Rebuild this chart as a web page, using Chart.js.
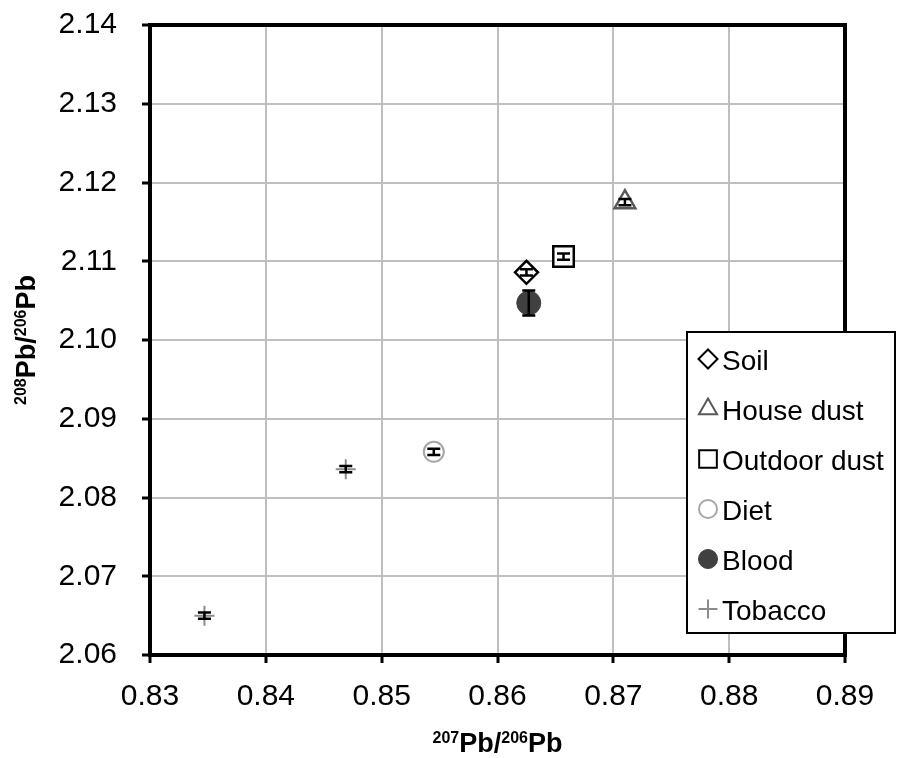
<!DOCTYPE html>
<html>
<head>
<meta charset="utf-8">
<script src="https://cdn.jsdelivr.net/npm/chart.js@4.4.1/dist/chart.umd.min.js"></script>
<style>
  html, body { margin: 0; padding: 0; background: #ffffff; }
  #wrap { width: 906px; height: 758px; }
</style>
</head>
<body>
<div id="wrap"><canvas id="c" width="906" height="758"></canvas></div>
<script>
// ---- data ----
const categories = ['Soil', 'House dust', 'Outdoor dust', 'Diet', 'Blood', 'Tobacco'];
const soilX = [0.8625],  soilY = [2.1086],  soilErr = [0.0004];
const houseX = [0.8710], houseY = [2.1175], houseErr = [0.0004];
const outdoorX = [0.8657], outdoorY = [2.1106], outdoorErr = [0.0004];
const dietX = [0.8545],  dietY = [2.0858],  dietErr = [0.0004];
const bloodX = [0.8627], bloodY = [2.1047], bloodErr = [0.0016];
const tobaccoX = [0.8347, 0.8469], tobaccoY = [2.0650, 2.0836], tobaccoErr = [0.0004, 0.0004];
const xTicks = [0.83, 0.84, 0.85, 0.86, 0.87, 0.88, 0.89];
const yTicks = [2.06, 2.07, 2.08, 2.09, 2.10, 2.11, 2.12, 2.13, 2.14];

function pts(xs, ys) { return xs.map((x, i) => ({ x: x, y: ys[i] })); }

const FONT = '"Liberation Sans", Arial, Helvetica, sans-serif';

const datasets = [
  { label: categories[0], data: pts(soilX, soilY), err: soilErr, pointStyle: 'rectRot', pointRadius: 11.5,
    backgroundColor: '#ffffff', borderColor: '#000000', pointBorderWidth: 2.5, lgR: 9.5 },
  { label: categories[1], data: pts(houseX, houseY), err: houseErr, pointStyle: 'triangle', pointRadius: 12,
    backgroundColor: '#ffffff', borderColor: '#595959', pointBorderWidth: 2.5, lgR: 10.5 },
  { label: categories[2], data: pts(outdoorX, outdoorY), err: outdoorErr, pointStyle: 'rect', pointRadius: 14.5,
    backgroundColor: '#ffffff', borderColor: '#000000', pointBorderWidth: 2.5, lgR: 12.5 },
  { label: categories[3], data: pts(dietX, dietY), err: dietErr, pointStyle: 'circle', pointRadius: 10,
    backgroundColor: '#ffffff', borderColor: '#a6a6a6', pointBorderWidth: 2, lgR: 9 },
  { label: categories[4], data: pts(bloodX, bloodY), err: bloodErr, pointStyle: 'circle', pointRadius: 12,
    backgroundColor: '#404040', borderColor: '#404040', pointBorderWidth: 1, lgR: 9.5 },
  { label: categories[5], data: pts(tobaccoX, tobaccoY), err: tobaccoErr, pointStyle: 'cross', pointRadius: 10,
    backgroundColor: '#8c8c8c', borderColor: '#8c8c8c', pointBorderWidth: 2, lgR: 9.5 }
];
datasets.forEach(d => { d.pointHoverRadius = d.pointRadius; d.showLine = false; });

function drawShape(ctx, style, x, y, r, fill, stroke, lw) {
  if (Chart.helpers && Chart.helpers.drawPoint) {
    ctx.save();
    ctx.fillStyle = fill; ctx.strokeStyle = stroke; ctx.lineWidth = lw;
    Chart.helpers.drawPoint(ctx, { pointStyle: style, radius: r, rotation: 0, borderWidth: lw }, x, y);
    ctx.restore();
  }
}

const errorBars = {
  id: 'errorBars',
  afterDatasetsDraw(chart) {
    const ctx = chart.ctx, xs = chart.scales.x, ys = chart.scales.y;
    ctx.save();
    ctx.strokeStyle = '#000000';
    ctx.lineWidth = 2.5;
    chart.data.datasets.forEach(ds => {
      ds.data.forEach((p, i) => {
        const e = ds.err[i];
        const px = xs.getPixelForValue(p.x);
        const y1 = ys.getPixelForValue(p.y + e), y2 = ys.getPixelForValue(p.y - e);
        const cap = 6.5;
        ctx.beginPath();
        ctx.moveTo(px, y1); ctx.lineTo(px, y2);
        ctx.moveTo(px - cap, y1); ctx.lineTo(px + cap, y1);
        ctx.moveTo(px - cap, y2); ctx.lineTo(px + cap, y2);
        ctx.stroke();
      });
    });
    const a = chart.chartArea;
    ctx.lineWidth = 4;
    ctx.strokeRect(a.left, a.top, a.right - a.left, a.bottom - a.top);
    ctx.restore();
  }
};

function drawSupTitle(ctx, parts, cx, cy, rotate) {
  const big = 'bold 27px ' + FONT, small = 'bold 16px ' + FONT;
  ctx.save();
  let w = 0;
  parts.forEach(p => { ctx.font = p[1] ? small : big; w += ctx.measureText(p[0]).width; });
  ctx.translate(cx, cy);
  if (rotate) ctx.rotate(-Math.PI / 2);
  ctx.fillStyle = '#000000';
  ctx.textBaseline = 'alphabetic';
  ctx.textAlign = 'left';
  let x = -w / 2;
  parts.forEach(p => {
    ctx.font = p[1] ? small : big;
    ctx.fillText(p[0], x, p[1] ? -9 : 0);
    x += ctx.measureText(p[0]).width;
  });
  ctx.restore();
}

const titlesAndLegend = {
  id: 'titlesAndLegend',
  afterDraw(chart) {
    const ctx = chart.ctx, a = chart.chartArea;
    const tparts = [['207', true], ['Pb/', false], ['206', true], ['Pb', false]];
    const yparts = [['208', true], ['Pb/', false], ['206', true], ['Pb', false]];
    drawSupTitle(ctx, tparts, (a.left + a.right) / 2, 752, false);
    drawSupTitle(ctx, yparts, 35, (a.top + a.bottom) / 2, true);

    const L = 687, T = 332, R = 895, B = 633;
    ctx.save();
    ctx.fillStyle = '#ffffff';
    ctx.fillRect(L, T, R - L, B - T);
    ctx.strokeStyle = '#000000';
    ctx.lineWidth = 2;
    ctx.strokeRect(L, T, R - L, B - T);
    ctx.font = '28px ' + FONT;
    ctx.textBaseline = 'alphabetic';
    ctx.textAlign = 'left';
    chart.data.datasets.forEach((ds, i) => {
      const cy = 359 + 50 * i;
      drawShape(ctx, ds.pointStyle, 708, cy, ds.lgR, ds.backgroundColor, ds.borderColor,
        i === 4 ? 1 : 2);
      ctx.fillStyle = '#000000';
      ctx.fillText(ds.label, 722, cy + 10.5);
    });
    ctx.restore();
  }
};

new Chart(document.getElementById('c'), {
  type: 'scatter',
  data: { datasets: datasets },
  options: {
    responsive: false,
    animation: false,
    devicePixelRatio: 1,
    layout: { padding: { left: 0, top: 25, right: 61, bottom: 0 } },
    plugins: { legend: { display: false }, tooltip: { enabled: false } },
    scales: {
      x: {
        type: 'linear', min: xTicks[0], max: xTicks[xTicks.length - 1],
        afterBuildTicks: s => { s.ticks = xTicks.map(v => ({ value: v })); },
        afterFit: s => { s.height = 103; s.paddingLeft = 0; s.paddingRight = 0; },
        grid: { color: '#bfbfbf', lineWidth: 2, tickColor: '#000000', tickWidth: 3, tickLength: 8 },
        border: { color: '#000000', width: 4 },
        ticks: { color: '#000000', font: { family: FONT, size: 30 }, padding: 16, maxRotation: 0,
          callback: v => Number(v).toFixed(2) }
      },
      y: {
        type: 'linear', min: yTicks[0], max: yTicks[yTicks.length - 1],
        afterBuildTicks: s => { s.ticks = yTicks.map(v => ({ value: v })); },
        afterFit: s => { s.width = 150; s.paddingTop = 0; s.paddingBottom = 0; },
        grid: { color: '#bfbfbf', lineWidth: 2, tickColor: '#000000', tickWidth: 3, tickLength: 8 },
        border: { color: '#000000', width: 4 },
        ticks: { color: '#000000', font: { family: FONT, size: 30 }, padding: 25,
          callback: v => Number(v).toFixed(2) }
      }
    }
  },
  plugins: [errorBars, titlesAndLegend]
});
</script>
</body>
</html>
